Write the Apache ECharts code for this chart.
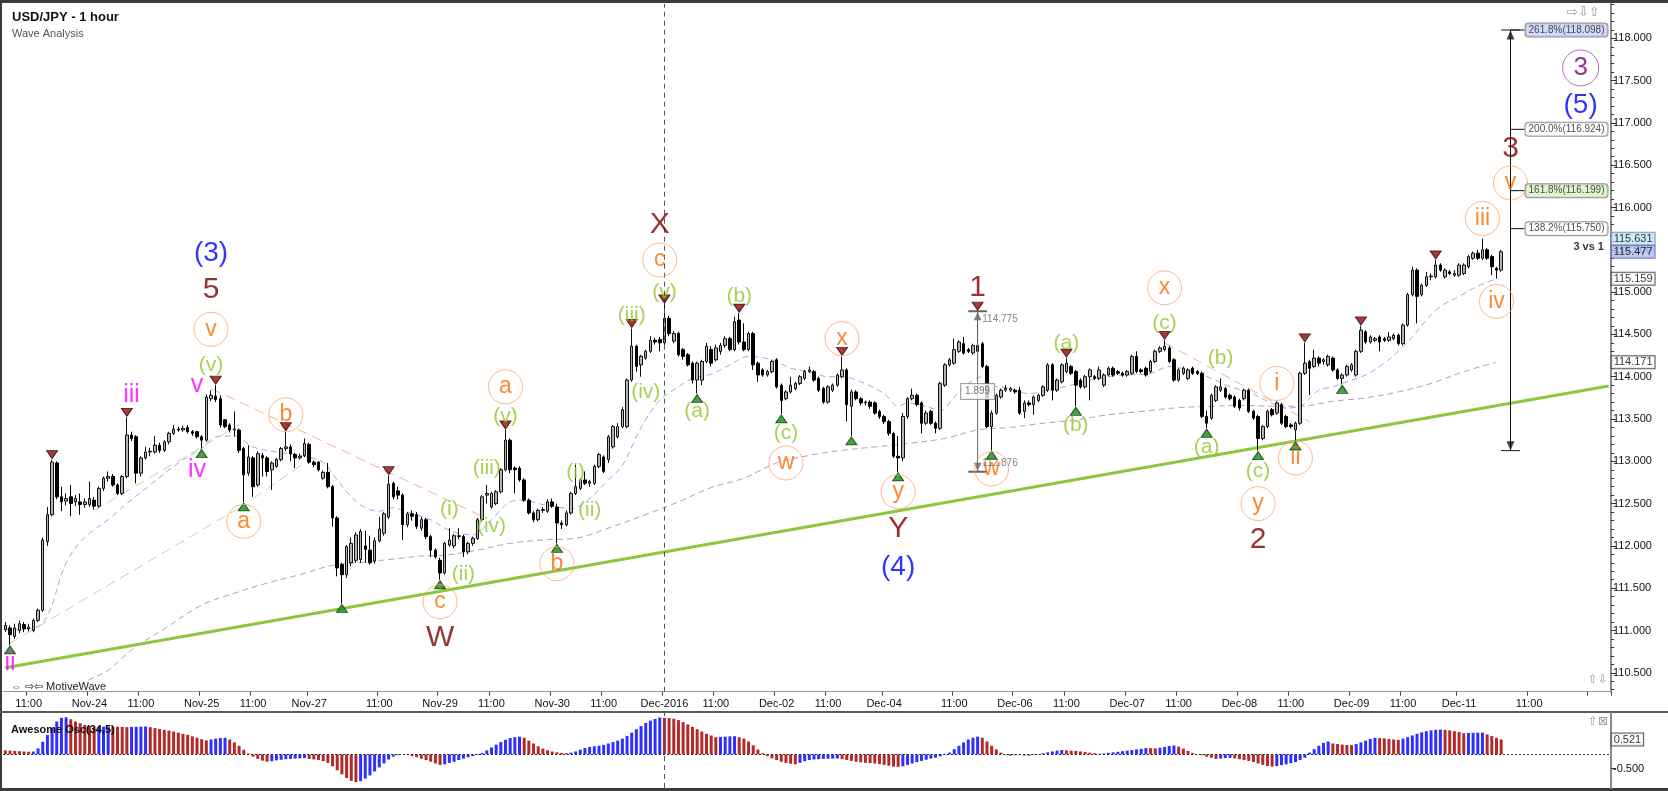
<!DOCTYPE html>
<html><head><meta charset="utf-8">
<script src="https://cdn.jsdelivr.net/npm/echarts@6/dist/echarts.min.js"></script>
<style>html,body{margin:0;padding:0;background:#fff;}#c{width:1668px;height:791px;}</style>
</head><body><div id="c"></div>
<script>
// ---------- DATA ----------
// hourly candles [open, close, low, high], first bar 2016-11-23 06:00
const candles = [
[111.01,111.06,110.98,111.10],[111.03,110.95,110.83,111.06],[110.93,111.03,110.90,111.08],[111.00,111.08,110.97,111.12],[111.07,111.02,110.98,111.10],
[111.02,111.04,110.99,111.08],[111.00,111.12,110.98,111.14],[111.12,111.24,111.10,111.26],[111.24,112.07,111.22,112.10],[112.05,112.37,112.00,112.46],
[112.37,112.99,112.35,113.02],[112.98,112.58,112.55,113.00],[112.58,112.52,112.41,112.70],[112.53,112.56,112.48,112.62],[112.58,112.50,112.35,112.72],
[112.52,112.56,112.47,112.60],[112.52,112.49,112.37,112.62],[112.49,112.52,112.45,112.56],[112.49,112.56,112.46,112.76],[112.54,112.47,112.43,112.58],
[112.47,112.68,112.45,112.70],[112.68,112.80,112.65,112.82],[112.80,112.82,112.76,112.88],[112.82,112.72,112.70,112.85],[112.72,112.62,112.60,112.74],
[112.62,112.82,112.60,112.84],[112.82,113.31,112.80,113.52],[113.31,113.27,113.24,113.35],[113.29,112.86,112.74,113.31],[112.86,113.04,112.82,113.06],
[113.04,113.11,113.02,113.17],[113.11,113.12,113.06,113.16],[113.11,113.19,113.09,113.30],[113.19,113.13,113.10,113.22],[113.13,113.23,113.11,113.25],
[113.23,113.33,113.20,113.35],[113.33,113.38,113.31,113.43],[113.38,113.37,113.35,113.41],[113.37,113.39,113.35,113.42],[113.40,113.35,113.33,113.43],
[113.35,113.33,113.30,113.37],[113.35,113.29,113.27,113.36],[113.29,113.25,113.15,113.31],[113.25,113.76,113.23,113.79],[113.74,113.78,113.71,113.84],
[113.77,113.73,113.70,113.90],[113.74,113.43,113.40,113.78],[113.49,113.41,113.39,113.50],[113.43,113.37,113.34,113.45],[113.37,113.38,113.29,113.59],
[113.37,113.13,113.10,113.39],[113.15,112.84,112.52,113.17],[112.86,113.05,112.83,113.19],[113.04,112.70,112.58,113.06],[112.72,113.09,112.70,113.12],
[113.07,113.04,112.82,113.10],[113.04,112.88,112.82,113.06],[112.90,112.98,112.66,113.00],[112.94,113.02,112.92,113.04],[113.02,113.15,113.00,113.17],
[113.15,113.17,113.12,113.35],[113.17,113.09,113.00,113.20],[113.08,113.04,112.92,113.10],[113.04,113.06,113.02,113.09],[113.07,113.21,113.05,113.27],
[113.20,112.99,112.97,113.22],[112.99,112.96,112.93,113.01],[112.99,112.90,112.88,113.00],[112.80,112.87,112.78,112.89],[112.87,112.70,112.68,112.98],
[112.70,112.33,112.23,112.72],[112.33,111.74,111.64,112.35],[111.78,111.66,111.32,111.80],[111.66,111.99,111.62,112.01],[111.80,112.03,111.76,112.10],
[111.83,112.13,111.80,112.16],[111.84,112.17,111.80,112.20],[112.00,111.96,111.80,112.18],[111.95,111.80,111.78,112.12],[111.82,112.06,111.79,112.10],
[112.06,112.20,112.04,112.34],[112.15,112.38,112.12,112.40],[112.34,112.73,112.32,112.83],[112.74,112.58,112.55,112.76],[112.65,112.60,112.55,112.70],
[112.60,112.25,112.07,112.62],[112.25,112.38,112.22,112.40],[112.38,112.35,112.30,112.42],[112.37,112.23,112.20,112.40],[112.21,112.31,112.18,112.34],
[112.31,112.11,112.08,112.33],[112.11,111.95,111.87,112.13],[111.95,111.87,111.85,111.97],[111.83,111.68,111.60,111.86],[111.68,112.03,111.66,112.05],
[112.01,112.07,111.99,112.21],[112.00,112.12,111.97,112.14],[112.11,112.12,112.08,112.21],[112.11,111.93,111.87,112.13],[111.93,112.03,111.90,112.05],
[112.03,112.09,112.00,112.11],[112.09,112.31,112.07,112.33],[112.31,112.58,112.29,112.60],[112.60,112.62,112.50,112.72],[112.46,112.62,112.44,112.64],
[112.50,112.64,112.48,112.66],[112.64,112.90,112.62,112.92],[112.90,113.25,112.88,113.37],[113.25,112.90,112.86,113.27],[112.92,112.90,112.62,112.94],
[112.92,112.78,112.76,112.94],[112.78,112.54,112.52,112.80],[112.54,112.39,112.37,112.56],[112.39,112.31,112.28,112.41],[112.31,112.42,112.29,112.44],
[112.42,112.43,112.39,112.46],[112.41,112.52,112.39,112.55],[112.52,112.47,112.45,112.56],[112.46,112.27,112.03,112.50],[112.27,112.25,112.20,112.30],
[112.25,112.39,112.23,112.42],[112.39,112.62,112.37,112.64],[112.62,112.70,112.60,112.96],[112.68,112.78,112.66,112.80],[112.78,112.74,112.72,112.88],
[112.74,112.76,112.70,112.78],[112.74,112.94,112.72,112.96],[112.94,113.08,112.92,113.10],[113.05,112.88,112.86,113.07],[113.02,113.29,112.98,113.31],
[113.17,113.41,113.15,113.43],[113.29,113.41,113.27,113.45],[113.41,113.61,113.39,113.64],[113.41,113.96,113.39,113.98],[113.96,114.36,113.94,114.57],
[114.36,114.12,114.06,114.38],[114.14,114.24,114.00,114.26],[114.22,114.30,114.20,114.32],[114.30,114.43,114.28,114.48],[114.43,114.41,114.38,114.46],
[114.44,114.40,114.30,114.47],[114.40,114.69,114.36,114.86],[114.69,114.51,114.48,114.72],[114.42,114.51,114.40,114.54],[114.51,114.26,114.24,114.53],
[114.32,114.24,114.20,114.34],[114.26,114.14,114.12,114.28],[114.16,113.96,113.92,114.18],[113.96,114.16,113.80,114.18],[113.96,114.18,113.90,114.20],
[114.18,114.36,114.16,114.40],[114.32,114.16,114.12,114.36],[114.20,114.34,114.18,114.38],[114.30,114.37,114.26,114.40],[114.37,114.45,114.34,114.48],
[114.45,114.32,114.30,114.47],[114.32,114.65,114.30,114.71],[114.67,114.41,114.38,114.75],[114.41,114.32,114.30,114.63],[114.32,114.51,114.30,114.53],
[114.51,114.14,114.08,114.53],[114.16,114.02,113.94,114.18],[114.08,114.02,114.00,114.10],[114.02,114.06,114.00,114.08],[114.06,114.18,114.04,114.20],
[114.20,113.88,113.86,114.22],[113.90,113.72,113.56,113.92],[113.74,113.82,113.72,113.84],[113.82,113.90,113.80,114.00],[113.86,113.92,113.84,113.94],
[113.92,114.00,113.90,114.02],[113.98,114.06,113.96,114.08],[114.06,114.08,114.04,114.12],[114.06,113.96,113.94,114.08],[113.98,113.84,113.82,114.00],
[113.86,113.70,113.68,113.88],[113.70,113.88,113.68,113.90],[113.84,113.90,113.82,113.92],[113.90,114.02,113.88,114.04],[114.00,114.08,113.98,114.24],
[114.08,113.67,113.47,114.10],[113.65,113.82,113.30,113.85],[113.82,113.74,113.72,113.84],[113.74,113.69,113.66,113.76],[113.69,113.70,113.66,113.72],
[113.70,113.65,113.62,113.72],[113.69,113.57,113.55,113.71],[113.59,113.53,113.50,113.61],[113.53,113.47,113.44,113.55],[113.47,113.33,113.30,113.49],
[113.33,113.06,113.04,113.35],[113.06,113.04,112.876,113.30],[113.04,113.53,113.00,113.57],[113.53,113.74,113.50,113.76],[113.74,113.78,113.72,113.86],
[113.78,113.67,113.65,113.80],[113.69,113.45,113.33,113.71],[113.45,113.57,113.43,113.60],[113.59,113.45,113.43,113.61],[113.45,113.39,113.33,113.47],
[113.39,113.92,113.37,113.94],[113.90,114.14,113.88,114.16],[114.14,114.20,114.12,114.22],[114.16,114.32,114.14,114.45],[114.30,114.41,114.28,114.43],
[114.39,114.28,114.26,114.47],[114.32,114.30,114.28,114.34],[114.28,114.37,114.26,114.39],[114.30,114.37,114.28,114.775],[114.39,114.12,114.10,114.41],
[114.12,113.41,113.39,114.14],[113.41,113.57,113.13,113.60],[113.57,113.78,113.55,113.80],[113.76,113.84,113.74,113.86],[113.84,113.86,113.82,113.90],
[113.84,113.86,113.82,113.88],[113.84,113.82,113.80,113.86],[113.84,113.57,113.55,113.88],[113.59,113.69,113.51,113.72],[113.69,113.67,113.65,113.72],
[113.67,113.76,113.55,113.78],[113.72,113.78,113.70,113.80],[113.78,113.88,113.76,113.90],[113.84,114.14,113.82,114.16],[114.14,113.84,113.72,114.16],
[113.84,113.96,113.82,113.98],[113.94,114.14,113.92,114.16],[114.06,114.16,114.04,114.22],[114.12,114.04,114.02,114.14],[114.06,113.90,113.65,114.08],
[113.96,113.88,113.86,113.98],[113.88,114.00,113.86,114.02],[114.00,114.08,113.72,114.10],[114.00,113.98,113.96,114.02],[113.98,114.08,113.96,114.12],
[113.90,114.02,113.88,114.04],[114.02,114.10,114.00,114.12],[114.10,114.02,114.00,114.12],[114.06,114.04,114.02,114.08],[114.04,114.02,114.00,114.06],
[114.02,114.06,114.00,114.08],[114.04,114.24,114.02,114.26],[114.24,114.06,114.04,114.30],[114.08,114.06,114.04,114.10],[114.10,114.02,114.00,114.12],
[114.06,114.18,114.04,114.20],[114.18,114.30,114.16,114.32],[114.30,114.34,114.28,114.36],[114.32,114.36,114.30,114.43],[114.34,114.18,114.16,114.36],
[114.20,113.96,113.94,114.22],[113.96,114.08,113.94,114.10],[114.04,114.10,114.02,114.12],[113.98,114.08,113.96,114.10],[114.10,114.04,114.02,114.12],
[114.06,114.04,114.02,114.08],[114.04,113.53,113.51,114.06],[113.53,113.45,113.39,113.60],[113.51,113.78,113.49,113.80],[113.72,113.88,113.70,113.90],
[113.84,113.88,113.82,113.98],[113.86,113.76,113.74,113.88],[113.78,113.74,113.72,113.80],[113.76,113.65,113.63,113.78],[113.72,113.63,113.60,113.74],
[113.74,113.84,113.72,113.86],[113.84,113.59,113.57,113.86],[113.59,113.51,113.49,113.61],[113.53,113.27,113.126,113.55],[113.27,113.41,113.25,113.43],
[113.41,113.59,113.39,113.61],[113.61,113.55,113.53,113.63],[113.57,113.69,113.55,113.71],[113.67,113.45,113.43,113.69],[113.53,113.41,113.39,113.55],
[113.43,113.41,113.39,113.45],[113.37,113.45,113.24,113.47],[113.45,114.04,113.43,114.06],[114.04,114.16,114.02,114.40],[114.18,114.10,113.78,114.20],
[114.12,114.22,114.10,114.32],[114.22,114.16,114.12,114.24],[114.18,114.20,114.14,114.22],[114.14,114.24,114.12,114.26],[114.22,114.08,114.06,114.24],
[114.08,113.98,113.96,114.10],[113.98,114.02,113.91,114.04],[114.02,114.12,114.00,114.14],[114.08,114.14,114.06,114.16],[114.02,114.30,114.00,114.32],
[114.30,114.55,114.28,114.60],[114.53,114.41,114.39,114.55],[114.41,114.47,114.39,114.49],[114.43,114.45,114.41,114.47],[114.47,114.41,114.30,114.49],
[114.45,114.43,114.41,114.47],[114.43,114.47,114.41,114.53],[114.45,114.49,114.43,114.51],[114.49,114.39,114.37,114.51],[114.39,114.61,114.37,114.63],
[114.61,114.97,114.59,114.99],[114.97,115.26,114.95,115.30],[115.26,114.95,114.63,115.28],[114.97,115.08,114.95,115.10],[115.08,115.18,115.06,115.24],
[115.18,115.19,115.14,115.22],[115.18,115.32,115.16,115.38],[115.32,115.26,115.24,115.34],[115.18,115.26,115.16,115.28],[115.24,115.22,115.20,115.26],
[115.20,115.22,115.18,115.26],[115.20,115.32,115.18,115.34],[115.22,115.32,115.20,115.34],[115.30,115.42,115.28,115.44],[115.40,115.46,115.38,115.48],
[115.46,115.40,115.38,115.50],[115.40,115.50,115.38,115.631],[115.50,115.40,115.38,115.52],[115.42,115.30,115.20,115.44],[115.28,115.26,115.159,115.30],
[115.26,115.477,115.24,115.50]
];

// Awesome Oscillator (34,5) histogram, one value per candle
const aoValues = [
0.14,0.13,0.12,0.11,0.10,0.09,
0.10,0.21,
0.44,0.68,0.92,1.15,1.28,1.30,
1.23,1.15,1.09,1.03,0.99,0.95,
0.96,0.97,0.975,
0.97,0.965,0.96,0.955,
0.96,0.965,0.97,0.975,
0.95,0.92,0.89,0.86,0.83,0.80,0.76,0.72,0.68,0.63,0.58,0.53,0.49,
0.52,0.55,0.57,0.58,
0.52,0.42,0.30,0.16,0.03,
-0.08,-0.16,-0.22,-0.26,
-0.24,-0.21,-0.19,-0.17,-0.16,-0.15,-0.14,-0.13,
-0.16,-0.18,-0.20,-0.24,-0.30,
-0.42,-0.56,-0.70,-0.83,-0.93,-0.97,
-0.94,-0.85,-0.74,-0.60,-0.46,-0.32,-0.18,-0.08,
-0.03,0.00,-0.02,
-0.06,-0.10,-0.15,-0.20,-0.26,-0.32,-0.37,
-0.35,-0.30,-0.26,-0.20,-0.15,-0.10,-0.06,-0.02,
0.05,0.14,0.24,0.34,0.43,0.51,0.57,0.60,0.62,
0.58,0.48,0.38,0.28,0.20,0.14,0.10,0.07,0.05,0.04,
0.06,0.10,0.16,0.22,0.26,0.28,0.30,0.33,0.38,0.43,0.48,0.55,0.64,0.76,0.88,0.99,1.10,1.18,1.24,1.29,
1.28,1.27,1.25,1.20,1.13,1.05,0.96,0.88,0.80,0.72,0.66,0.60,
0.61,0.62,0.63,0.635,
0.60,0.55,0.45,0.32,0.17,0.04,
-0.06,-0.14,-0.20,-0.26,-0.30,-0.33,-0.35,
-0.30,-0.24,-0.20,-0.18,-0.17,-0.16,-0.155,
-0.15,-0.145,
-0.17,-0.20,-0.23,-0.26,-0.28,-0.30,-0.31,-0.32,-0.34,-0.37,-0.40,-0.43,-0.44,
-0.42,-0.37,-0.32,-0.27,-0.23,-0.19,-0.15,-0.12,-0.07,-0.02,
0.06,0.18,0.30,0.42,0.52,0.58,0.62,
0.58,0.45,0.30,0.17,0.06,-0.02,
-0.05,-0.03,-0.02,-0.04,-0.05,-0.02,0.01,
0.04,0.07,0.10,0.13,0.15,
0.14,0.13,0.12,0.10,0.08,0.06,0.04,0.02,
0.03,0.05,0.07,0.09,0.11,0.13,0.15,0.17,0.19,0.22,0.215,0.21,0.23,0.26,0.29,0.31,
0.27,0.20,0.12,0.05,0.01,
-0.03,-0.08,-0.12,-0.16,-0.15,-0.13,-0.12,-0.14,
-0.17,-0.20,-0.23,-0.27,-0.32,-0.37,-0.41,-0.43,
-0.41,-0.38,-0.35,-0.31,-0.27,-0.20,-0.12,
0.06,0.18,0.30,0.40,0.45,
0.38,0.36,0.34,0.33,0.32,
0.36,0.42,0.48,0.54,0.58,
0.57,0.56,0.54,0.52,0.51,
0.55,0.60,0.66,0.72,0.77,0.81,0.84,0.86,0.87,
0.86,0.84,0.81,0.78,0.74,
0.75,0.755,0.76,0.765,
0.70,0.64,0.58,0.521
];

// moving averages: [bar index, price]
const blueMA = [[0,111.01],[6,111.03],[9,111.17],[13,111.80],[17,112.10],[22,112.31],[26,112.50],[31,112.72],[37,112.98],[42,113.15],[45,113.29],[49,113.30],[53,113.17],[58,113.11],[63,113.07],[68,112.99],[70,112.85],[74,112.58],[77,112.45],[80,112.41],[83,112.45],[86,112.40],[91,112.31],[94,112.21],[97,112.15],[100,112.13],[104,112.31],[108,112.52],[111,112.54],[114,112.50],[118,112.46],[121,112.44],[125,112.56],[129,112.78],[132,112.95],[136,113.40],[140,113.72],[144,113.88],[147,113.98],[151,114.03],[155,114.14],[159,114.24],[164,114.20],[168,114.10],[172,114.06],[176,114.00],[179,114.00],[183,113.94],[188,113.80],[191,113.65],[193,113.69],[197,113.65],[200,113.60],[203,113.76],[206,113.92],[209,114.00],[211,113.90],[214,113.87],[219,113.80],[223,113.84],[228,113.90],[232,113.96],[236,114.00],[240,114.02],[245,114.04],[249,114.12],[253,114.08],[258,113.98],[262,113.88],[266,113.82],[270,113.71],[274,113.63],[277,113.65],[281,113.84],[284,113.88],[287,113.94],[291,114.02],[295,114.16],[298,114.30],[301,114.47],[304,114.67],[307,114.83],[311,114.95],[315,115.07],[319,115.159]];
const purpleMA = [[14,110.29],[18,110.42],[22,110.53],[27,110.77],[34,111.02],[42,111.30],[49,111.44],[56,111.56],[63,111.66],[70,111.77],[77,111.81],[84,111.85],[89,111.88],[94,111.89],[101,111.95],[108,112.03],[115,112.07],[122,112.09],[129,112.21],[136,112.35],[144,112.52],[151,112.69],[158,112.80],[165,112.98],[172,113.07],[179,113.13],[186,113.17],[193,113.21],[201,113.27],[208,113.37],[215,113.40],[222,113.45],[229,113.49],[236,113.55],[243,113.59],[250,113.63],[258,113.65],[265,113.66],[272,113.65],[277,113.65],[284,113.71],[291,113.75],[298,113.82],[305,113.92],[312,114.06],[319,114.171]];

// swing markers (bar indexes)
const highMarks = [10,26,45,60,82,107,134,141,157,179,208,227,248,278,290,306];
const lowMarks = [1,42,51,72,93,118,148,166,181,191,211,229,257,268,276,286];

// wave labels: [bar index, price, text]
const orangeLabels = [[44,114.56,'v'],[51,112.29,'a'],[60,113.55,'b'],[93,111.34,'c'],[107,113.88,'a'],[118,111.79,'b'],[140,115.38,'c'],[167,112.98,'w'],[179,114.45,'x'],[191,112.64,'y'],[211,112.91,'w'],[248,115.05,'x'],[268,112.50,'y'],[272,113.92,'i'],[276,113.04,'ii'],[316,115.87,'iii'],[319,114.89,'iv'],[322,116.29,'v']];
const greenLabels = [[44,114.14,'(v)'],[95,112.43,'(i)'],[98,111.66,'(ii)'],[103,112.92,'(iii)'],[104,112.23,'(iv)'],[107,113.53,'(v)'],[122,112.87,'(i)'],[125,112.42,'(ii)'],[134,114.73,'(iii)'],[137,113.82,'(iv)'],[141,115.00,'(v)'],[148,113.59,'(a)'],[157,114.95,'(b)'],[167,113.33,'(c)'],[227,114.40,'(a)'],[229,113.43,'(b)'],[248,114.63,'(c)'],[257,113.17,'(a)'],[260,114.22,'(b)'],[268,112.88,'(c)']];
const magentaLabels = [[1,110.62,'ii'],[27,113.78,'iii'],[41,112.90,'iv'],[41,113.90,'v']];
const darkRedLabels = [[44,115.03,'5'],[140,115.80,'X'],[93,110.91,'W'],[191,112.20,'Y'],[208,115.05,'1'],[268,112.07,'2'],[322,116.70,'3']];
const blueLabels = [[44,115.46,'(3)'],[191,111.75,'(4)'],[337,117.21,'(5)']];
const purpleLabels = [[337,117.65,'3']];

// trend lines: [[index, price],[index, price]]
const trendLine = [[0,110.56],[343,113.89]];
const orangeDashLines = [[[44,113.86],[102,112.35]],[[248,114.40],[279,113.47]]];
const khakiDashLines = [[[1,110.85],[51,112.48]],[[19,112.42],[50,113.43]],[[53,112.56],[64,112.98]]];

// Fibonacci projection of wave 1 from the wave 2 low
const fibIndex = 322;
const fibBase = 113.126;
const fibLevels = [['261.8%',118.098,'#c8d0f4'],['200.0%',116.924,'#ffffff'],['161.8%',116.199,'#d4f2c8'],['138.2%',115.750,'#ffffff']];
// wave 1 measurement
const waveIndex = 208;
const waveLow = 112.876, waveHigh = 114.775;

// axis ticks
const priceTicks = [110.5,111,111.5,112,112.5,113,113.5,114,114.5,115,115.5,116,116.5,117,117.5,118];
const oscTicks = [-0.5];
const vsText = '3 vs 1';

// ---------- BUILD ----------
const TOTAL = 344;
const MONTHS = ['Jan','Feb','Mar','Apr','May','Jun','Jul','Aug','Sep','Oct','Nov','Dec'];
const times = [];
(function(){ let t = Date.UTC(2016,10,23,6);
  while (times.length < TOTAL) { const d = new Date(t); const wd = d.getUTCDay(), h = d.getUTCHours();
    const skip = (wd===5 && h===23) || wd===6 || (wd===0 && h<20);
    if (!skip) times.push(t); t += 3600000; } })();
const cats = times.map(t => new Date(t).toISOString().slice(0,16).replace('T',' '));
function tickText(i){ const d = new Date(times[i]); const h = d.getUTCHours(), wd = d.getUTCDay();
  if (h===11) return '11:00';
  if ((h===0 && wd!==1) || (wd===0 && h===20)) { const dd = d.getUTCDate();
    return dd===1 ? MONTHS[d.getUTCMonth()]+'-'+d.getUTCFullYear() : MONTHS[d.getUTCMonth()]+'-'+String(dd).padStart(2,'0'); }
  return ''; }
const labelShow = i => i < 332 && tickText(i) !== '';
const tickShow = i => tickText(i) !== '';
const decIdx = times.findIndex(t => { const d=new Date(t); return d.getUTCMonth()===11 && d.getUTCDate()===1 && d.getUTCHours()===0; });

const FONT = '"Liberation Sans", Arial, sans-serif';
const minors = []; for (let k=1103; k<=1184; k++){ if (k%5!==0) minors.push(k/10); }
const yMin = 110.2766, yMax = 118.4054;

function lineSeries(pts, color, width, type, smooth, z){
  return {type:'line', xAxisIndex:0, yAxisIndex:0, data:pts, showSymbol:false, symbol:'none', smooth:smooth||false,
    lineStyle:{color:color, width:width, type:type||'solid'}, z:z||2, silent:true, animation:false};
}
function labelSeries(list, o){
  return {type:'scatter', xAxisIndex:0, yAxisIndex:0, z:8, silent:true, clip:false,
    symbol: o.circle ? 'circle' : 'circle', symbolSize: o.circle ? o.size : 1,
    itemStyle: o.circle ? {color:'rgba(255,255,255,0)', borderColor:o.border, borderWidth:1} : {color:'rgba(0,0,0,0)'},
    label:{show:true, position:'inside', formatter:p=>p.data.name, color:o.color, fontSize:o.fs, fontFamily:FONT, fontWeight:o.bold?'bold':'normal'},
    data: list.map(d=>({value:[d[0],d[1]], name:d[2]}))};
}
function tagSeries(items, gridAxis){
  return {type:'scatter', xAxisIndex:gridAxis, yAxisIndex:gridAxis===0?0:2, z:9, silent:true, clip:false, symbolSize:0,
    data: items.map(it=>({value:[TOTAL-1, it[0]], label:{show:true, position:'right', distance:3,
      formatter: it[1], color:'#000', fontSize:11, fontFamily:FONT, backgroundColor:it[2], borderColor:it[3], borderWidth:1,
      padding:[1,2,0,2]}}))};
}

const series = [];
// trendline
series.push(lineSeries(trendLine, '#8dc63f', 3, 'solid', false, 1));
// moving averages
series.push(lineSeries(blueMA, '#8fb0ef', 1, [6,4], 0.35, 2));
series.push(lineSeries(purpleMA, '#c98fd1', 1, [6,4], 0.35, 2));
orangeDashLines.forEach(l => series.push(lineSeries(l, '#f6b08c', 1, [10,6], false, 2)));
khakiDashLines.forEach(l => series.push(lineSeries(l, '#cfcf9f', 1, [10,6], false, 2)));
// candles
series.push({type:'candlestick', xAxisIndex:0, yAxisIndex:0, data:candles, barWidth:3, z:3, silent:true,
  itemStyle:{color:'#b3b3b3', color0:'#000', borderColor:'#111', borderColor0:'#000', borderWidth:1},
  markLine:{silent:true, symbol:'none', label:{show:false}, lineStyle:{color:'#555', type:[5,4], width:1}, data:[{xAxis:cats[decIdx]}]}});
// swing markers
series.push({type:'scatter', xAxisIndex:0, yAxisIndex:0, z:7, silent:true, symbol:'triangle', symbolRotate:180, symbolSize:[11,8], symbolOffset:[0,-5],
  itemStyle:{color:'#8b0a0a', borderColor:'#3c0000', borderWidth:1}, data: highMarks.map(i=>[i, candles[i][3]])});
series.push({type:'scatter', xAxisIndex:0, yAxisIndex:0, z:7, silent:true, symbol:'triangle', symbolSize:[11,8], symbolOffset:[0,5],
  itemStyle:{color:'#148c14', borderColor:'#063806', borderWidth:1}, data: lowMarks.map(i=>[i, candles[i][2]])});
// fib projection
const fibTop = fibLevels[0][1];
series.push(lineSeries([[fibIndex,fibBase],[fibIndex,fibTop]], '#111', 1, 'solid', false, 4));
series.push(lineSeries([[fibIndex-2,fibTop],[fibIndex+2,fibTop]], '#111', 1, 'solid', false, 4));
series.push(lineSeries([[fibIndex-2,fibBase],[fibIndex+2,fibBase]], '#111', 1, 'solid', false, 4));
fibLevels.forEach(f => series.push(lineSeries([[fibIndex,f[1]],[fibIndex+3,f[1]]], '#111', 1, 'solid', false, 4)));
series.push({type:'scatter', xAxisIndex:0, yAxisIndex:0, z:5, silent:true, symbol:'triangle', symbolSize:[8,9], symbolOffset:[0,5], itemStyle:{color:'#111'}, data:[[fibIndex,fibTop]]});
series.push({type:'scatter', xAxisIndex:0, yAxisIndex:0, z:5, silent:true, symbol:'triangle', symbolRotate:180, symbolSize:[8,9], symbolOffset:[0,-5], itemStyle:{color:'#111'}, data:[[fibIndex,fibBase]]});
series.push({type:'scatter', xAxisIndex:0, yAxisIndex:0, z:9, silent:true, clip:false, symbolSize:0,
  data: fibLevels.map(f=>({value:[fibIndex+3,f[1]], label:{show:true, position:'right', distance:1,
    formatter: f[0]+'('+f[1].toFixed(3)+')', fontSize:10, color:'#222', fontFamily:FONT, backgroundColor:f[2], borderColor:'#777', borderWidth:1, borderRadius:3, padding:[2,3,1,3]}}))});
// wave 1 measurement bracket
series.push(lineSeries([[waveIndex,waveLow],[waveIndex,waveHigh]], '#666', 1, 'solid', false, 4));
series.push(lineSeries([[waveIndex-2,waveHigh],[waveIndex+2,waveHigh]], '#666', 2, 'solid', false, 4));
series.push(lineSeries([[waveIndex-2,waveLow],[waveIndex+2,waveLow]], '#666', 2, 'solid', false, 4));
series.push({type:'scatter', xAxisIndex:0, yAxisIndex:0, z:5, silent:true, symbol:'triangle', symbolSize:[8,8], symbolOffset:[0,5], itemStyle:{color:'#666'}, data:[[waveIndex,waveHigh]]});
series.push({type:'scatter', xAxisIndex:0, yAxisIndex:0, z:5, silent:true, symbol:'triangle', symbolRotate:180, symbolSize:[8,8], symbolOffset:[0,-5], itemStyle:{color:'#666'}, data:[[waveIndex,waveLow]]});
series.push({type:'scatter', xAxisIndex:0, yAxisIndex:0, z:9, silent:true, clip:false, symbolSize:0,
  data:[
    {value:[waveIndex,(waveLow+waveHigh)/2+0.0], label:{show:true, position:'inside', formatter:(waveHigh-waveLow).toFixed(3), fontSize:10, color:'#555', fontFamily:FONT, backgroundColor:'#fff', borderColor:'#888', borderWidth:1, padding:[3,4,2,4]}},
    {value:[waveIndex+1,waveHigh-0.1], label:{show:true, position:'right', distance:0, formatter:waveHigh.toFixed(3), fontSize:10, color:'#666', fontFamily:FONT}},
    {value:[waveIndex+1,waveLow+0.1], label:{show:true, position:'right', distance:0, formatter:waveLow.toFixed(3), fontSize:10, color:'#666', fontFamily:FONT}}
  ]});
// wave labels
series.push(labelSeries(greenLabels, {color:'#92c628', fs:21}));
series.push(labelSeries(magentaLabels, {color:'#ff00ff', fs:25}));
series.push(labelSeries(darkRedLabels, {color:'#800000', fs:30}));
series.push(labelSeries(blueLabels, {color:'#0000ff', fs:28}));
series.push(labelSeries(orangeLabels, {color:'#ff6a00', fs:23, circle:true, size:34, border:'#ffa56e'}));
series.push(labelSeries(purpleLabels, {color:'#800080', fs:26, circle:true, size:36, border:'#a050a8'}));
// "3 vs 1" note
series.push({type:'scatter', xAxisIndex:0, yAxisIndex:0, z:9, silent:true, clip:false, symbolSize:0,
  data:[{value:[TOTAL-2,115.536], label:{show:true, position:'left', distance:0, formatter:vsText, fontSize:11, fontWeight:'bold', color:'#000', fontFamily:FONT}}]});
// price tags on the right axis
const lastClose = candles[candles.length-1][1];
const maxHigh = Math.max(...candles.map(c=>c[3]));
series.push(tagSeries([
  [maxHigh, maxHigh.toFixed(3), '#c4e6f6', '#5f8fa8'],
  [lastClose, lastClose.toFixed(3), '#b3bff2', '#5a68a8'],
  [blueMA[blueMA.length-1][1], blueMA[blueMA.length-1][1].toFixed(3), '#ffffff', '#333'],
  [purpleMA[purpleMA.length-1][1], purpleMA[purpleMA.length-1][1].toFixed(3), '#ffffff', '#333']
], 0));
// Awesome oscillator
series.push({type:'bar', xAxisIndex:1, yAxisIndex:2, barWidth:3, silent:true, z:3,
  data: aoValues.map((v,i)=>({value:v, itemStyle:{color: (i>0 && v>aoValues[i-1]) ? '#2f2fff' : '#b22a2a'}})),
  markLine:{silent:true, symbol:'none', label:{show:false}, data:[
    {yAxis:0, lineStyle:{color:'#333', type:[2,2], width:1}},
    {xAxis:cats[decIdx], lineStyle:{color:'#555', type:[5,4], width:1}}]}});
series.push(tagSeries([[aoValues[aoValues.length-1], aoValues[aoValues.length-1].toFixed(3), '#fff', '#333']], 1));

const option = {
  animation:false, backgroundColor:'#ffffff',
  textStyle:{fontFamily:FONT},
  title:[
    {text:'USD/JPY - 1 hour', subtext:'Wave Analysis', left:7, top:6, itemGap:4,
      textStyle:{fontSize:13, fontWeight:'bold', color:'#111', fontFamily:FONT}, subtextStyle:{fontSize:11, color:'#555', fontFamily:FONT}},
    {text:'Awesome Osc(34,5)', left:6, top:719, textStyle:{fontSize:11, fontWeight:'bold', color:'#111', fontFamily:FONT}},
    {text:'\u21D4 \u21E8\u21E6 MotiveWave', left:6, top:676, textStyle:{fontSize:11, fontWeight:'normal', color:'#222', fontFamily:FONT}}
  ],
  grid:[{left:3, right:57, top:4, bottom:99.3}, {left:3, right:57, top:713, bottom:3}],
  xAxis:[
    {type:'category', gridIndex:0, data:cats, boundaryGap:true,
      axisLine:{show:true, lineStyle:{color:'#999', width:1}},
      axisTick:{show:true, interval:(i)=>tickShow(i), length:4, lineStyle:{color:'#444'}},
      axisLabel:{show:true, interval:(i)=>labelShow(i), formatter:(v,i)=>tickText(i), fontSize:11, color:'#111', margin:7, fontFamily:FONT},
      splitLine:{show:false}},
    {type:'category', gridIndex:1, data:cats, boundaryGap:true, axisLine:{show:false}, axisTick:{show:false}, axisLabel:{show:false}, splitLine:{show:false}}
  ],
  yAxis:[
    {type:'value', gridIndex:0, position:'right', min:yMin, max:yMax,
      axisLine:{show:true, lineStyle:{color:'#8a8a8a', width:2}},
      axisTick:{show:true, customValues:priceTicks, length:5, lineStyle:{color:'#333'}},
      axisLabel:{show:true, customValues:priceTicks, formatter:v=>Number(v).toFixed(3), fontSize:11, color:'#111', margin:2, fontFamily:FONT},
      splitLine:{show:false}},
    {type:'value', gridIndex:0, position:'right', min:yMin, max:yMax,
      axisLine:{show:false}, axisTick:{show:true, customValues:minors, length:3, lineStyle:{color:'#333'}},
      axisLabel:{show:false}, splitLine:{show:false}},
    {type:'value', gridIndex:1, position:'right', min:-1.18, max:1.449,
      axisLine:{show:true, lineStyle:{color:'#8a8a8a', width:2}},
      axisTick:{show:true, customValues:oscTicks, length:5, lineStyle:{color:'#333'}},
      axisLabel:{show:true, customValues:oscTicks, formatter:v=>Number(v).toFixed(3), fontSize:11, color:'#111', margin:2, fontFamily:FONT},
      splitLine:{show:false}}
  ],
  graphic:[
    {type:'rect', shape:{x:0,y:0,width:1668,height:3}, style:{fill:'#3c3c3c'}, silent:true},
    {type:'rect', shape:{x:0,y:0,width:2,height:791}, style:{fill:'#3c3c3c'}, silent:true},
    {type:'rect', shape:{x:0,y:788,width:1668,height:3}, style:{fill:'#3c3c3c'}, silent:true},
    {type:'line', shape:{x1:0,y1:712,x2:1668,y2:712}, style:{stroke:'#5a5a5a', lineWidth:2}, silent:true},
    {type:'text', left:1567, top:6, style:{text:'\u21E8\u21E9\u21E7', fill:'#9a9a9a', font:'13px "DejaVu Sans"'}, silent:true},
    {type:'text', left:1588, top:674, style:{text:'\u21E7\u21E9', fill:'#9a9a9a', font:'12px "DejaVu Sans"'}, silent:true},
    {type:'text', left:1588, top:716, style:{text:'\u21E7\u22A0', fill:'#9a9a9a', font:'12px "DejaVu Sans"'}, silent:true}
  ],
  series: series
};
const chart = echarts.init(document.getElementById('c'), null, {renderer:'canvas'});
chart.setOption(option);
</script>
</body></html>
